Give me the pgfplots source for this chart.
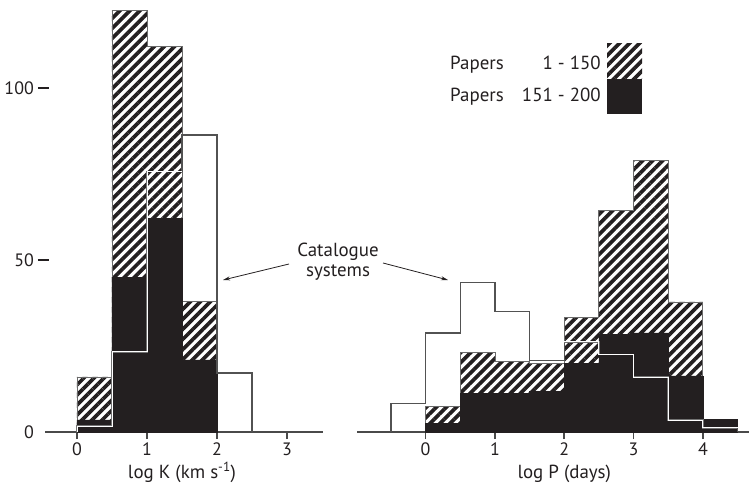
\documentclass[border=0pt]{standalone}
\usepackage{fontspec}
\setmainfont{PT Sans}
\usepackage{pgfplots}
\pgfplotsset{compat=1.18}
\usetikzlibrary{patterns.meta,arrows.meta}
\definecolor{ink}{HTML}{231F20}
\definecolor{axgray}{HTML}{4A4A4A}
\definecolor{edgegray}{HTML}{6A6A6A}

\tikzset{
  hatch/.style={pattern={Lines[angle=45,distance=7.1bp,line width=3.7bp]},pattern color=ink},
}
\pgfplotsset{
  histo/.style={
    scale only axis, height=430bp, ymin=0, ymax=125, clip=false,
    axis x line*=bottom, axis y line*=left,
    x axis line style={-, axgray, line width=2bp},
    y axis line style={draw=none},
    ytick style={draw=none},
    xtick style={axgray, line width=1.6bp},
    xtick align=outside, major tick length=7bp,
    tick label style={font=\fontsize{18}{20}\selectfont, text=ink},
    xtick={0,1,2,3,4},
    /pgf/number format/assume math mode=true,
  },
  hatchbar/.style={const plot, hatch, draw=edgegray, line width=0.9bp},
  blackbar/.style={const plot, fill=ink, draw=ink, line width=0.5bp},
  % catalogue outline: white core over the dark bars, plain grey over the paper
  catin/.style={const plot, draw=black!55, double=white, double distance=0.9bp, line width=0.45bp, line join=miter},
  catout/.style={const plot, draw=black!68, line width=1.5bp, line join=miter},
}

\begin{document}
\begin{tikzpicture}
\useasboundingbox (0,0) rectangle (749bp,492bp);

% ---------- left panel: log K ----------
\begin{axis}[histo, at={(45bp,60bp)}, anchor=south west, width=278bp,
  xmin=-0.457, xmax=3.514,
  ytick={0,50,100},
  yticklabels={0\hspace{4bp}\hphantom{\rule{11bp}{1bp}}, 50\hspace{4bp}\rule[5.6bp]{11bp}{1.3bp}, 100\hspace{4bp}\rule[5.6bp]{11bp}{1.3bp}},
  yticklabel style={anchor=east, inner sep=0pt, xshift=4bp},
]
% Papers 1-200 total (hatched part = papers 1-150)
\addplot[hatchbar] coordinates {(0,0) (0,16) (0.5,122.5) (1,112) (1.5,38) (2,38) (2,0)} -- cycle;
% Papers 151-200
\addplot[blackbar] coordinates {(0,0) (0,3.5) (0.5,45) (1,62) (1.5,21) (2,21) (2,0)} -- cycle;
% Catalogue systems (split where it runs over the bars)
\addplot[catout] coordinates {(1.5,75.7) (1.5,86.3) (2,17.2) (2.5,0)};
\addplot[catin] coordinates {(0,0) (0,1.7) (0.5,23.3) (1,75.7) (1.5,75.7)};
\node[anchor=base, font=\fontsize{19}{22}\selectfont, text=ink] at (axis cs:1.5,0) [yshift=-46bp] {log K (km s\textsuperscript{-1})};
\end{axis}

% ---------- right panel: log P ----------
\begin{axis}[histo, at={(357bp,60bp)}, anchor=south west, width=392bp,
  xmin=-0.99, xmax=4.665,
  ytick=\empty,
]
\addplot[hatchbar] coordinates {(0,0) (0,7.5) (0.5,23.1) (1,20.6) (1.5,20) (2,33.2) (2.5,64.4) (3,78.8) (3.5,37.8) (4,37.8) (4,0)} -- cycle;
\addplot[blackbar] coordinates {(0,0) (0,2.4) (0.5,11.3) (1,11.3) (1.5,11.8) (2,19.9) (2.5,28.4) (3,28.8) (3.5,16.3) (4,3.6) (4.5,3.6) (4.5,0)} -- cycle;
\addplot[catout] coordinates {(-0.5,0) (-0.5,8.3) (0,28.8) (0.5,43.4) (1,35.1) (1.5,20.8) (2,20.8) (2,26.2)};
\addplot[catin] coordinates {(2,26.2) (2.5,22.5) (3,16) (3.5,3.4) (4,1.2) (4.5,1.2)};
\addplot[catout] coordinates {(4.5,1.2) (4.5,0)};
\node[anchor=base, font=\fontsize{19}{22}\selectfont, text=ink] at (axis cs:2,0) [yshift=-46bp] {log P (days)};
\end{axis}

% ---------- annotation ----------
\node[font=\fontsize{19}{22}\selectfont, text=ink, align=center, inner sep=0pt] at (338bp,492bp-262bp) {Catalogue\\[-2bp]systems};
\draw[ink, line width=0.8bp, -{Stealth[length=7bp,width=4bp]}] (289bp,492bp-264bp) -- (223bp,492bp-280bp);
\draw[ink, line width=0.8bp, -{Stealth[length=7bp,width=4bp]}] (383bp,492bp-263bp) -- (448bp,492bp-280bp);

% ---------- legend ----------
\fill[ink] (607bp,492bp-113.7bp) rectangle (642bp,492bp-78.7bp);
\fill[hatch] (607bp,492bp-78.7bp) rectangle (642bp,492bp-44bp);
\node[anchor=base west, font=\fontsize{19}{22}\selectfont, text=ink, inner sep=0pt] at (450bp,492bp-70bp) {Papers};
\node[anchor=base east, font=\fontsize{19}{22}\selectfont, text=ink, inner sep=0pt] at (601bp,492bp-70bp) {1 - 150};
\node[anchor=base west, font=\fontsize{19}{22}\selectfont, text=ink, inner sep=0pt] at (450bp,492bp-101.7bp) {Papers};
\node[anchor=base east, font=\fontsize{19}{22}\selectfont, text=ink, inner sep=0pt] at (601bp,492bp-101.7bp) {151 - 200};
\end{tikzpicture}
\end{document}
